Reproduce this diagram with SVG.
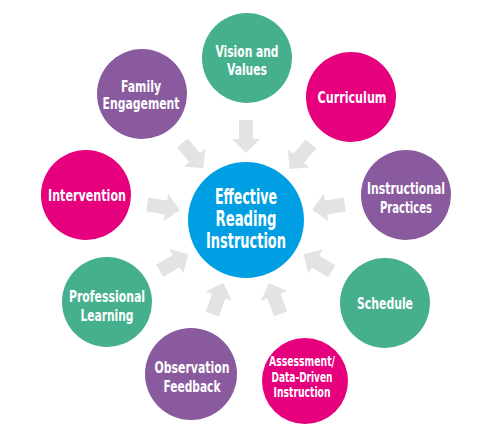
<svg xmlns="http://www.w3.org/2000/svg" xmlns:xlink="http://www.w3.org/1999/xlink" width="500" height="439" viewBox="0 0 500 439">
<defs>
<style>
.g{fill:#46B08E}.p{fill:#E6007E}.v{fill:#8A5A9F}.b{fill:#009FE3}
.arrow{fill:#E3E3E3}
text{font-family:"Liberation Sans Narrow","DejaVu Sans Condensed","Liberation Sans",sans-serif;font-weight:bold;fill:#FFFFFF;text-anchor:middle;font-size:15px}
.c{font-size:21px}
.s{font-size:13.5px}
</style>
<path id="arr" d="M67,0 L81,-14 L81,-7 L100,-7 L100,7 L81,7 L81,14 Z"/>
</defs>
<rect width="500" height="439" fill="#FFFFFF"/>
<g id="connectors" class="arrow">
<use xlink:href="#arr" transform="translate(246,220) rotate(-90)"/>
<use xlink:href="#arr" transform="translate(246,220) rotate(-49.5)"/>
<use xlink:href="#arr" transform="translate(246,220) rotate(-8.9)"/>
<use xlink:href="#arr" transform="translate(246,220) rotate(30.8)"/>
<use xlink:href="#arr" transform="translate(246,220) rotate(69.8)"/>
<use xlink:href="#arr" transform="translate(246,220) rotate(109.7)"/>
<use xlink:href="#arr" transform="translate(246,220) rotate(149.5)"/>
<use xlink:href="#arr" transform="translate(246,220) rotate(188.9)"/>
<use xlink:href="#arr" transform="translate(246,220) rotate(230.5)"/>
</g>
<g id="center">
<circle class="b" cx="246" cy="220" r="58"/>
<text class="c" x="246" y="204" textLength="62" lengthAdjust="spacingAndGlyphs">Effective</text>
<text class="c" x="246" y="226" textLength="61" lengthAdjust="spacingAndGlyphs">Reading</text>
<text class="c" x="246" y="248" textLength="80" lengthAdjust="spacingAndGlyphs">Instruction</text>
</g>
<g id="vision">
<circle class="g" cx="247" cy="58" r="45"/>
<text x="247" y="57" textLength="63" lengthAdjust="spacingAndGlyphs">Vision and</text>
<text x="247" y="75" textLength="40" lengthAdjust="spacingAndGlyphs">Values</text>
</g>
<g id="curriculum">
<circle class="p" cx="351" cy="97" r="45"/>
<text x="352" y="103" textLength="69" lengthAdjust="spacingAndGlyphs">Curriculum</text>
</g>
<g id="instructional">
<circle class="v" cx="406" cy="195" r="45"/>
<text x="406" y="194" textLength="78" lengthAdjust="spacingAndGlyphs">Instructional</text>
<text x="406" y="213" textLength="52" lengthAdjust="spacingAndGlyphs">Practices</text>
</g>
<g id="schedule">
<circle class="g" cx="385" cy="303" r="45"/>
<text x="385" y="309" textLength="56" lengthAdjust="spacingAndGlyphs">Schedule</text>
</g>
<g id="assessment">
<circle class="p" cx="305" cy="381" r="43"/>
<text class="s" x="302" y="366" textLength="66" lengthAdjust="spacingAndGlyphs">Assessment/</text>
<text class="s" x="302" y="382" textLength="61" lengthAdjust="spacingAndGlyphs">Data-Driven</text>
<text class="s" x="302" y="397" textLength="57" lengthAdjust="spacingAndGlyphs">Instruction</text>
</g>
<g id="observation">
<circle class="v" cx="191" cy="374" r="46"/>
<text x="192" y="373" textLength="75" lengthAdjust="spacingAndGlyphs">Observation</text>
<text x="192" y="392" textLength="57" lengthAdjust="spacingAndGlyphs">Feedback</text>
</g>
<g id="professional">
<circle class="g" cx="107" cy="302" r="45"/>
<text x="107" y="302" textLength="76" lengthAdjust="spacingAndGlyphs">Professional</text>
<text x="107" y="321" textLength="53" lengthAdjust="spacingAndGlyphs">Learning</text>
</g>
<g id="intervention">
<circle class="p" cx="86" cy="195" r="45"/>
<text x="87" y="201" textLength="78" lengthAdjust="spacingAndGlyphs">Intervention</text>
</g>
<g id="family">
<circle class="v" cx="142" cy="94" r="45"/>
<text x="141" y="92" textLength="40" lengthAdjust="spacingAndGlyphs">Family</text>
<text x="141" y="109" textLength="77" lengthAdjust="spacingAndGlyphs">Engagement</text>
</g>
</svg>
